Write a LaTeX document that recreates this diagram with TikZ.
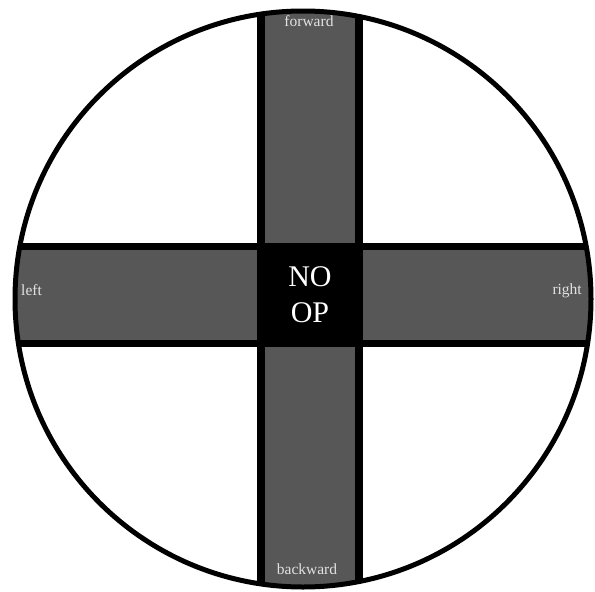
\documentclass[tikz,border=0pt]{standalone}
\usepackage{fontspec}
\setmainfont{Liberation Serif}
\usepackage{xcolor}
\usepackage{tikz}
\definecolor{bargray}{HTML}{575757}
\definecolor{labelgray}{HTML}{E2E2E2}
\newcommand{\LabelFont}{\fontsize{15.5}{18}\selectfont}
\newcommand{\BigFont}{\fontsize{30}{33}\selectfont}

\begin{document}
\begin{tikzpicture}[x=1pt,y=-1pt,
    dirlabel/.style={labelgray,inner sep=0pt,font=\LabelFont},
    centerbox/.style={fill=black,text=white,minimum width=106pt,minimum height=104pt,inner sep=0pt,align=center,font=\BigFont}]
  \useasboundingbox (0,0) rectangle (595,592);
  \fill[white] (0,0) rectangle (595,592);
  \begin{scope}
    \clip (303,299) circle (288);
    % vertical bar
    \fill[black] (257,-10) rectangle (363,610);
    \fill[bargray] (265,-10) rectangle (355,610);
    % horizontal bar
    \fill[black] (-10,243) rectangle (610,347);
    \fill[bargray] (-10,250) rectangle (610,340);
  \end{scope}
  \draw[line width=5pt] (303,299) circle (288);
  \node[centerbox] (noop) at (310,295) {NO\\[3pt]OP};
  \node[dirlabel] (forward) at (309,21) {forward};
  \node[dirlabel] (backward) at (307,569) {backward};
  \node[dirlabel,anchor=west] (left) at (21,290) {left};
  \node[dirlabel,anchor=east] (right) at (582,291) {right};
\end{tikzpicture}
\end{document}
